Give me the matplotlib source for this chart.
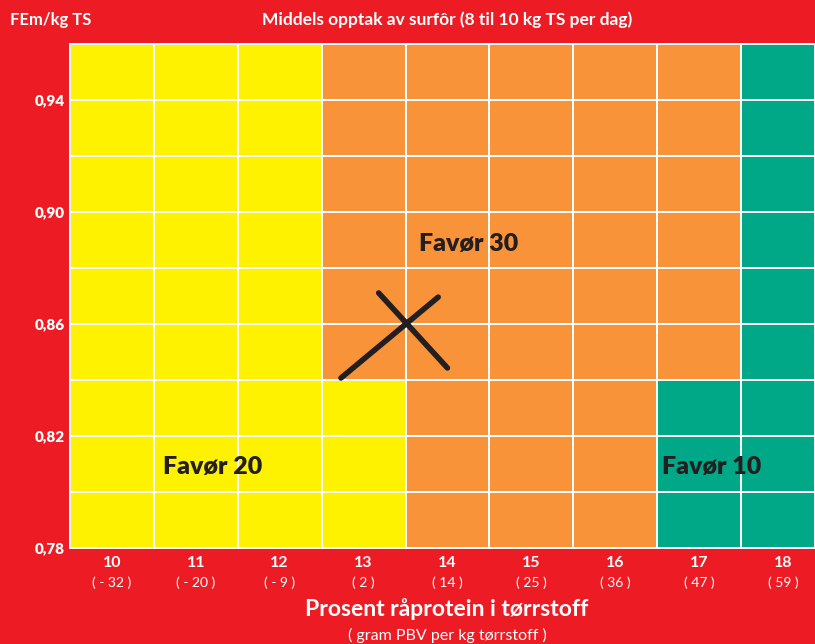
import matplotlib.pyplot as plt
from matplotlib.colors import ListedColormap
import numpy as np

# Data
protein_pct = [10, 11, 12, 13, 14, 15, 16, 17, 18]
pbv_labels = ["( - 32 )", "( - 20 )", "( - 9 )", "( 2 )", "( 14 )", "( 25 )", "( 36 )", "( 47 )", "( 59 )"]
fem_edges = [0.78, 0.80, 0.82, 0.84, 0.86, 0.88, 0.90, 0.92, 0.94, 0.96]
fem_ticks = [0.78, 0.82, 0.86, 0.90, 0.94]

# zone per cell: 0 = Favør 20 (yellow), 1 = Favør 30 (orange), 2 = Favør 10 (green)
# rows from bottom (0,78) to top, columns 10..18
zones = np.array([
    [0, 0, 0, 0, 1, 1, 1, 2, 2],
    [0, 0, 0, 0, 1, 1, 1, 2, 2],
    [0, 0, 0, 0, 1, 1, 1, 2, 2],
    [0, 0, 0, 1, 1, 1, 1, 1, 2],
    [0, 0, 0, 1, 1, 1, 1, 1, 2],
    [0, 0, 0, 1, 1, 1, 1, 1, 2],
    [0, 0, 0, 1, 1, 1, 1, 1, 2],
    [0, 0, 0, 1, 1, 1, 1, 1, 2],
    [0, 0, 0, 1, 1, 1, 1, 1, 2],
])

zone_labels = ["Favør 20", "Favør 30", "Favør 10"]
label_x = [11.2, 14.25, 17.15]
label_y = [0.809, 0.8885, 0.809]

# the hand-drawn cross (two strokes)
cross_a_x = [12.73, 13.89]
cross_a_y = [0.8407, 0.8696]
cross_b_x = [13.18, 14.0]
cross_b_y = [0.8711, 0.8443]

RED = "#ED1C24"
YELLOW = "#FFF200"
ORANGE = "#F99339"
GREEN = "#00A887"
FONT = "Lato"

plt.rcParams["font.family"] = [FONT, "DejaVu Sans"]

fig = plt.figure(figsize=(8.15, 6.44), dpi=100, facecolor=RED)
ax = fig.add_axes([70 / 815, 96 / 644, 745 / 815, 504 / 644])
ax.set_facecolor(RED)

x_edges = np.arange(protein_pct[0] - 0.5, protein_pct[-1] + 1.0, 1.0)
cmap = ListedColormap([YELLOW, ORANGE, GREEN])
ax.pcolormesh(x_edges, fem_edges, zones, cmap=cmap, vmin=-0.5, vmax=2.5,
              edgecolor="white", linewidth=1.1)

ax.plot(cross_a_x, cross_a_y, color="#231F20", lw=4, solid_capstyle="round")
ax.plot(cross_b_x, cross_b_y, color="#231F20", lw=4, solid_capstyle="round")

for lab, lx, ly in zip(zone_labels, label_x, label_y):
    ax.text(lx, ly, lab, ha="center", va="center", fontsize=18,
            fontweight="heavy", color="#231F20")

ax.set_xlim(9.5, 9.5 + 745 / 83.875)
ax.set_ylim(fem_edges[0], fem_edges[-1])

for s in ax.spines.values():
    s.set_color("white")
    s.set_linewidth(1.4)

ax.set_xticks([])
ax.set_yticks(fem_ticks)
ax.set_yticklabels([f"{v:.2f}".replace(".", ",") for v in fem_ticks],
                   fontsize=11, fontweight="heavy", color="white")
ax.tick_params(axis="y", length=0, pad=4)

# x labels: percent over PBV
trans = ax.get_xaxis_transform()
for p, pl in zip(protein_pct, pbv_labels):
    ax.text(p, -0.03, str(p), transform=trans, ha="center", va="center",
            fontsize=11.5, fontweight="bold", color="white", clip_on=False)
    ax.text(p, -0.068, pl, transform=trans, ha="center", va="center",
            fontsize=10, color="white", clip_on=False)

fig.text(447 / 815, 1 - 609 / 644, "Prosent råprotein i tørrstoff", ha="center", va="center",
         fontsize=16.5, fontweight="bold", color="white")
fig.text(447 / 815, 1 - 635 / 644, "( gram PBV per kg tørrstoff )", ha="center", va="center",
         fontsize=11.5, color="white")
fig.text(447 / 815, 1 - 20 / 644, "Middels opptak av surfôr (8 til 10 kg TS per dag)",
         ha="center", va="center", fontsize=12.5, fontweight="bold", color="white")
fig.text(10 / 815, 1 - 20 / 644, "FEm/kg TS", ha="left", va="center",
         fontsize=12, fontweight="bold", color="white")

fig.savefig("out.png", dpi=100, facecolor=RED)
